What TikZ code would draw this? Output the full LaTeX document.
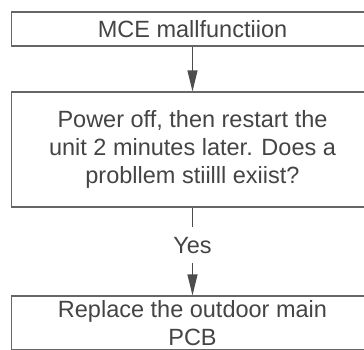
\documentclass[tikz,border=0pt]{standalone}
\usepackage{fontspec}
\setmainfont{Liberation Sans}
\usepackage{xcolor}
\usepackage{tikz}
\usetikzlibrary{positioning,arrows.meta}
\definecolor{BoxGrey}{HTML}{666666}
\definecolor{ArrowGrey}{HTML}{4D4D4D}
\definecolor{TextGrey}{HTML}{444444}

\begin{document}
\begin{tikzpicture}[x=1pt,y=-1pt,
    every node/.style={font=\fontsize{23.5}{28}\selectfont, text=TextGrey},
    flowbox/.style={draw=BoxGrey, line width=1.2pt, minimum width=362pt,
      inner sep=0pt, align=center},
    flowline/.style={draw=ArrowGrey, line width=1.2pt},
    flowarrow/.style={flowline, -{Triangle[length=21pt,width=10pt]}}]
  \useasboundingbox (0,0) rectangle (364,349);
  \clip (0,0) rectangle (364,349);
  % boxes
  \node[flowbox, minimum height=34pt] (fault) at (192.5,29) {MCE mallfunctiion};
  \node[flowbox, minimum height=115pt] (check) at (192.5,149.5)
    {Power off, then restart the\\unit 2 minutes later. Does a\\probllem stiilll exiist?};
  \node[inner sep=9.5pt, anchor=base] (yes) at (192.5,253) {Yes};
  \node[flowbox, minimum height=54pt] (pcb) at (192.5,323)
    {Replace the outdoor main\\PCB};
  % connectors
  \draw[flowarrow] (fault.south) -- (check.north);
  \draw[flowline] (check.south) -- (yes.north);
  \draw[flowarrow] (yes.south) -- (pcb.north);
\end{tikzpicture}
\end{document}
